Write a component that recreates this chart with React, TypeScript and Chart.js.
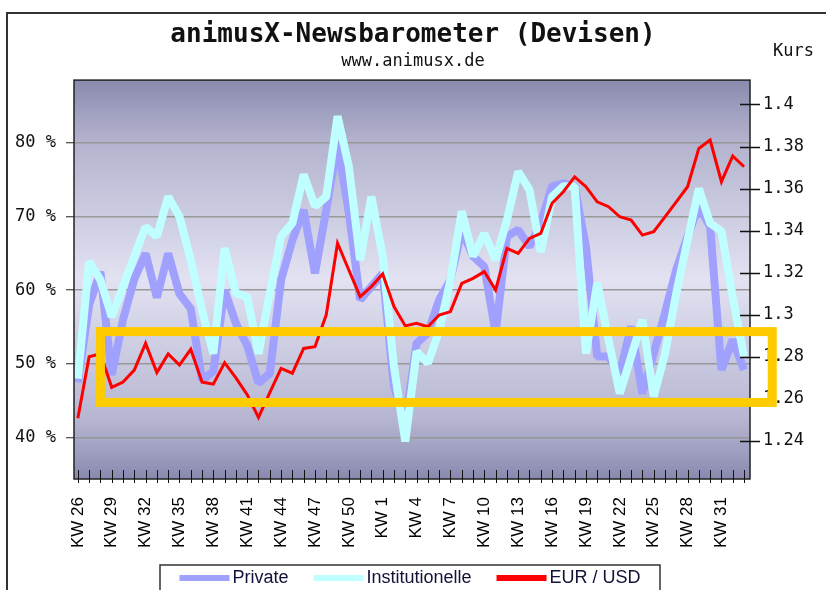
import React, { useEffect, useRef } from 'react';
import { Chart, registerables } from 'chart.js';

Chart.register(...registerables);

// ---- data -------------------------------------------------------------
const WEEKS = [
  26, 27, 28, 29, 30, 31, 32, 33, 34, 35, 36, 37, 38, 39, 40, 41, 42, 43, 44, 45,
  46, 47, 48, 49, 50, 51, 52, 1, 2, 3, 4, 5, 6, 7, 8, 9, 10, 11, 12, 13,
  14, 15, 16, 17, 18, 19, 20, 21, 22, 23, 24, 25, 26, 27, 28, 29, 30, 31, 32, 33,
];
const X_LABELS = WEEKS.map((w) => `KW ${w}`);
const LABEL_EVERY = 3;

const PRIVATE = [
  47.5, 58, 62.5, 48.5, 56, 61.5, 65, 59, 65, 59.5,
  57.5, 47.8, 49, 60, 55.5, 52.5, 47.4, 48.7, 61.4, 66.8,
  70.9, 62.3, 70.9, 80, 70.5, 58.7, 60.5, 62.3, 46.9, 42,
  52.8, 54.2, 58.7, 61.4, 68.2, 64.6, 63.2, 54.2, 67.3, 68.2,
  65.9, 69.1, 74.1, 74.5, 74.1, 65.9, 51, 51, 48.7, 55.1,
  46, 51.4, 56.9, 62.8, 67.3, 71.4, 68.6, 49.2, 53.3, 49.2,
];
const INSTITUTIONELLE = [
  48, 63.9, 61.4, 56.4, 60.5, 64.6, 68.6, 67.3, 72.7, 70,
  64.1, 57.3, 51.4, 65.7, 59.6, 59.1, 51.4, 59.6, 67.3, 69.1,
  75.7, 71.4, 72.7, 83.6, 76.8, 64.1, 72.7, 64.6, 49.6, 39.5,
  51.7, 50.1, 54.5, 61.4, 70.7, 64.6, 67.7, 64.1, 69.5, 76.1,
  73.6, 65.2, 72.7, 74.1, 74.1, 51.4, 61, 53.3, 46, 51,
  56, 45.6, 51.4, 59.6, 66.8, 73.8, 69.1, 68, 59.1, 51,
];
const EUR_USD = [
  1.2508, 1.28, 1.2814, 1.2655, 1.268, 1.2737, 1.2864, 1.2725, 1.2814, 1.2761,
  1.2836, 1.268, 1.267, 1.2772, 1.27, 1.262, 1.2512, 1.263, 1.2745, 1.2722,
  1.284, 1.2848, 1.3, 1.334, 1.3213, 1.3086, 1.3134, 1.3194, 1.3039, 1.2947,
  1.2959, 1.2943, 1.2999, 1.3015, 1.3149, 1.3173, 1.3205, 1.3118, 1.3316, 1.3292,
  1.3363, 1.3387, 1.353, 1.3585, 1.3656, 1.3609, 1.3537, 1.3514, 1.3466, 1.345,
  1.3379, 1.3395, 1.3466, 1.3537, 1.3609, 1.3791, 1.3831, 1.3633, 1.3755, 1.3704,
];

const SERIES_NAMES = ['Private', 'Institutionelle', 'EUR / USD'];
const TITLE = 'animusX-Newsbarometer (Devisen)';
const SUBTITLE = 'www.animusx.de';
const RIGHT_AXIS_TITLE = 'Kurs';

// scale ranges
const LEFT_RANGE = [34.4, 88.5];
const LEFT_STEP = 10;
const RIGHT_RANGE = [1.2219, 1.4116];
const RIGHT_STEP = 0.02;
const X_RANGE = [-0.34, 59.53];

// highlight rectangle (x in week index, y in Kurs)
const HIGHLIGHT_X = [2, 61.5];
const HIGHLIGHT_Y = [1.2583, 1.292];

// ---- styles -----------------------------------------------------------
const MONO = '"DejaVu Sans Mono", "Liberation Mono", monospace';
const SANS = '"Liberation Sans", Arial, sans-serif';
const COLORS = ['#a0a0ff', '#c0ffff', '#ff0000'];

const toPoints = (arr: number[]) => arr.map((v, i) => ({ x: i, y: v }));

const decorPlugin = {
  id: 'decor',
  beforeDraw(chart: any) {
    const { ctx, chartArea: a } = chart;
    ctx.save();
    ctx.fillStyle = '#ffffff';
    ctx.fillRect(0, 0, chart.width, chart.height);
    // outer frame
    ctx.strokeStyle = '#333';
    ctx.lineWidth = 2;
    ctx.strokeRect(7, 13, chart.width + 40, chart.height + 40);
    // plot background gradient
    const g = ctx.createLinearGradient(0, a.top, 0, a.bottom);
    g.addColorStop(0, '#8a8aae');
    g.addColorStop(0.15, '#b2b2ce');
    g.addColorStop(0.5, '#e2e2f2');
    g.addColorStop(0.85, '#b6b6d2');
    g.addColorStop(1, '#8a8ab0');
    ctx.fillStyle = g;
    ctx.fillRect(a.left, a.top, a.right - a.left, a.bottom - a.top);
    ctx.restore();
  },
  afterDatasetsDraw(chart: any) {
    const { ctx, chartArea: a, scales } = chart;
    ctx.save();
    // plot border
    ctx.strokeStyle = '#222';
    ctx.lineWidth = 1.5;
    ctx.strokeRect(a.left, a.top, a.right - a.left, a.bottom - a.top);
    // x ticks (inside + a little outside)
    const xs = scales.x;
    ctx.lineWidth = 1;
    ctx.strokeStyle = '#111';
    ctx.beginPath();
    xs.ticks.forEach((t: any) => {
      const px = Math.round(xs.getPixelForValue(t.value)) + 0.5;
      ctx.moveTo(px, a.bottom - 9);
      ctx.lineTo(px, a.bottom + 4);
    });
    ctx.stroke();
    // right ticks crossing the border
    const ys = scales.y1;
    ctx.beginPath();
    ys.ticks.forEach((t: any) => {
      const py = Math.round(ys.getPixelForValue(t.value)) + 0.5;
      ctx.moveTo(a.right - 10, py);
      ctx.lineTo(a.right + 10, py);
    });
    ctx.lineWidth = 1.5;
    ctx.stroke();
    // highlight rectangle
    const x0 = xs.getPixelForValue(HIGHLIGHT_X[0]);
    const x1 = xs.getPixelForValue(HIGHLIGHT_X[1]);
    const y0 = ys.getPixelForValue(HIGHLIGHT_Y[1]);
    const y1 = ys.getPixelForValue(HIGHLIGHT_Y[0]);
    ctx.strokeStyle = '#ffcc00';
    ctx.lineWidth = 9;
    ctx.lineJoin = 'miter';
    ctx.strokeRect(x0, y0, x1 - x0, y1 - y0);
    ctx.restore();
  },
  afterDraw(chart: any) {
    const { ctx, chartArea: a } = chart;
    ctx.save();
    // right axis title
    ctx.fillStyle = '#111';
    ctx.font = `17px ${MONO}`;
    ctx.textAlign = 'left';
    ctx.textBaseline = 'middle';
    ctx.fillText(RIGHT_AXIS_TITLE, a.right + 23, 52);
    // legend
    const box = { x: 160, y: 565, w: 500, h: 40 };
    ctx.strokeStyle = '#333';
    ctx.lineWidth = 1.5;
    ctx.strokeRect(box.x, box.y, box.w, box.h);
    ctx.font = `18px ${SANS}`;
    const items = chart.data.datasets.map((d: any) => ({ label: d.label, color: d.borderColor }));
    const sw = 50;
    const gapText = 3;
    const gapItem = 25;
    const widths = items.map((it: any) => sw + gapText + ctx.measureText(it.label).width);
    const total = widths.reduce((s: number, w: number) => s + w, 0) + gapItem * (items.length - 1);
    let x = box.x + (box.w - total) / 2;
    const cy = 578;
    items.forEach((it: any, i: number) => {
      ctx.fillStyle = it.color;
      ctx.fillRect(x, cy - 3, sw, 6);
      ctx.fillStyle = '#11113a';
      ctx.textBaseline = 'middle';
      ctx.fillText(it.label, x + sw + gapText, cy);
      x += widths[i] + gapItem;
    });
    ctx.restore();
  },
};

export default function App() {
  const ref = useRef<HTMLCanvasElement>(null);
  useEffect(() => {
    document.body.style.margin = '0';
    const canvas = ref.current!;
    const chart = new Chart(canvas, {
      type: 'line',
      data: {
        datasets: [
          {
            label: SERIES_NAMES[0],
            data: toPoints(PRIVATE),
            borderColor: COLORS[0],
            backgroundColor: COLORS[0],
            borderWidth: 8,
            yAxisID: 'y',
            order: 2,
            borderJoinStyle: 'bevel',
          },
          {
            label: SERIES_NAMES[1],
            data: toPoints(INSTITUTIONELLE),
            borderColor: COLORS[1],
            backgroundColor: COLORS[1],
            borderWidth: 8,
            yAxisID: 'y',
            order: 1,
            borderJoinStyle: 'bevel',
          },
          {
            label: SERIES_NAMES[2],
            data: toPoints(EUR_USD),
            borderColor: COLORS[2],
            backgroundColor: COLORS[2],
            borderWidth: 3,
            yAxisID: 'y1',
            order: 0,
            borderJoinStyle: 'miter',
          },
        ],
      },
      options: {
        animation: false,
        responsive: false,
        devicePixelRatio: 1,
        events: [],
        elements: { point: { radius: 0 }, line: { tension: 0, fill: false } },
        layout: { padding: 0 },
        plugins: {
          legend: { display: false },
          tooltip: { enabled: false },
          title: {
            display: true,
            text: TITLE,
            color: '#111',
            font: { family: MONO, size: 26, weight: 'bold', lineHeight: 1.2 },
            padding: { top: 19.5, bottom: 0 },
          },
          subtitle: {
            display: true,
            text: SUBTITLE,
            color: '#111',
            font: { family: MONO, size: 17, weight: 'normal', lineHeight: 1.2 },
            padding: { top: 1, bottom: 8 },
          },
        },
        scales: {
          x: {
            type: 'linear',
            min: X_RANGE[0],
            max: X_RANGE[1],
            grid: { display: false, drawTicks: false },
            border: { display: false },
            afterFit: (s: any) => {
              s.height = 111;
            },
            ticks: {
              stepSize: 1,
              includeBounds: false,
              autoSkip: false,
              maxRotation: 90,
              minRotation: 90,
              padding: 18,
              color: '#000',
              font: { family: SANS, size: 17 },
              callback: (v: any) => {
                const i = Number(v);
                return Number.isInteger(i) && i % LABEL_EVERY === 0 && X_LABELS[i] ? X_LABELS[i] : '';
              },
            },
          },
          y: {
            position: 'left',
            min: LEFT_RANGE[0],
            max: LEFT_RANGE[1],
            border: { display: false },
            grid: {
              color: 'rgba(150,150,150,0.95)',
              lineWidth: 1.5,
              drawTicks: true,
              tickLength: 8,
              tickColor: '#222',
              tickWidth: 1,
            },
            afterFit: (s: any) => {
              s.width = 74;
            },
            ticks: {
              stepSize: LEFT_STEP,
              includeBounds: false,
              padding: 10,
              color: '#111',
              font: { family: MONO, size: 17 },
              callback: (v: any) => `${v} %`,
            },
          },
          y1: {
            position: 'right',
            min: RIGHT_RANGE[0],
            max: RIGHT_RANGE[1],
            border: { display: false },
            grid: { display: false, drawTicks: false },
            afterFit: (s: any) => {
              s.width = 76;
            },
            ticks: {
              stepSize: RIGHT_STEP,
              includeBounds: false,
              padding: 13,
              color: '#111',
              font: { family: MONO, size: 17 },
              callback: (v: any) => String(Math.round(Number(v) * 100) / 100),
            },
          },
        },
      } as any,
      plugins: [decorPlugin],
    });
    return () => chart.destroy();
  }, []);
  return (
    <canvas
      ref={ref}
      width={826}
      height={590}
      style={{ display: 'block', width: 826, height: 590 }}
    />
  );
}
